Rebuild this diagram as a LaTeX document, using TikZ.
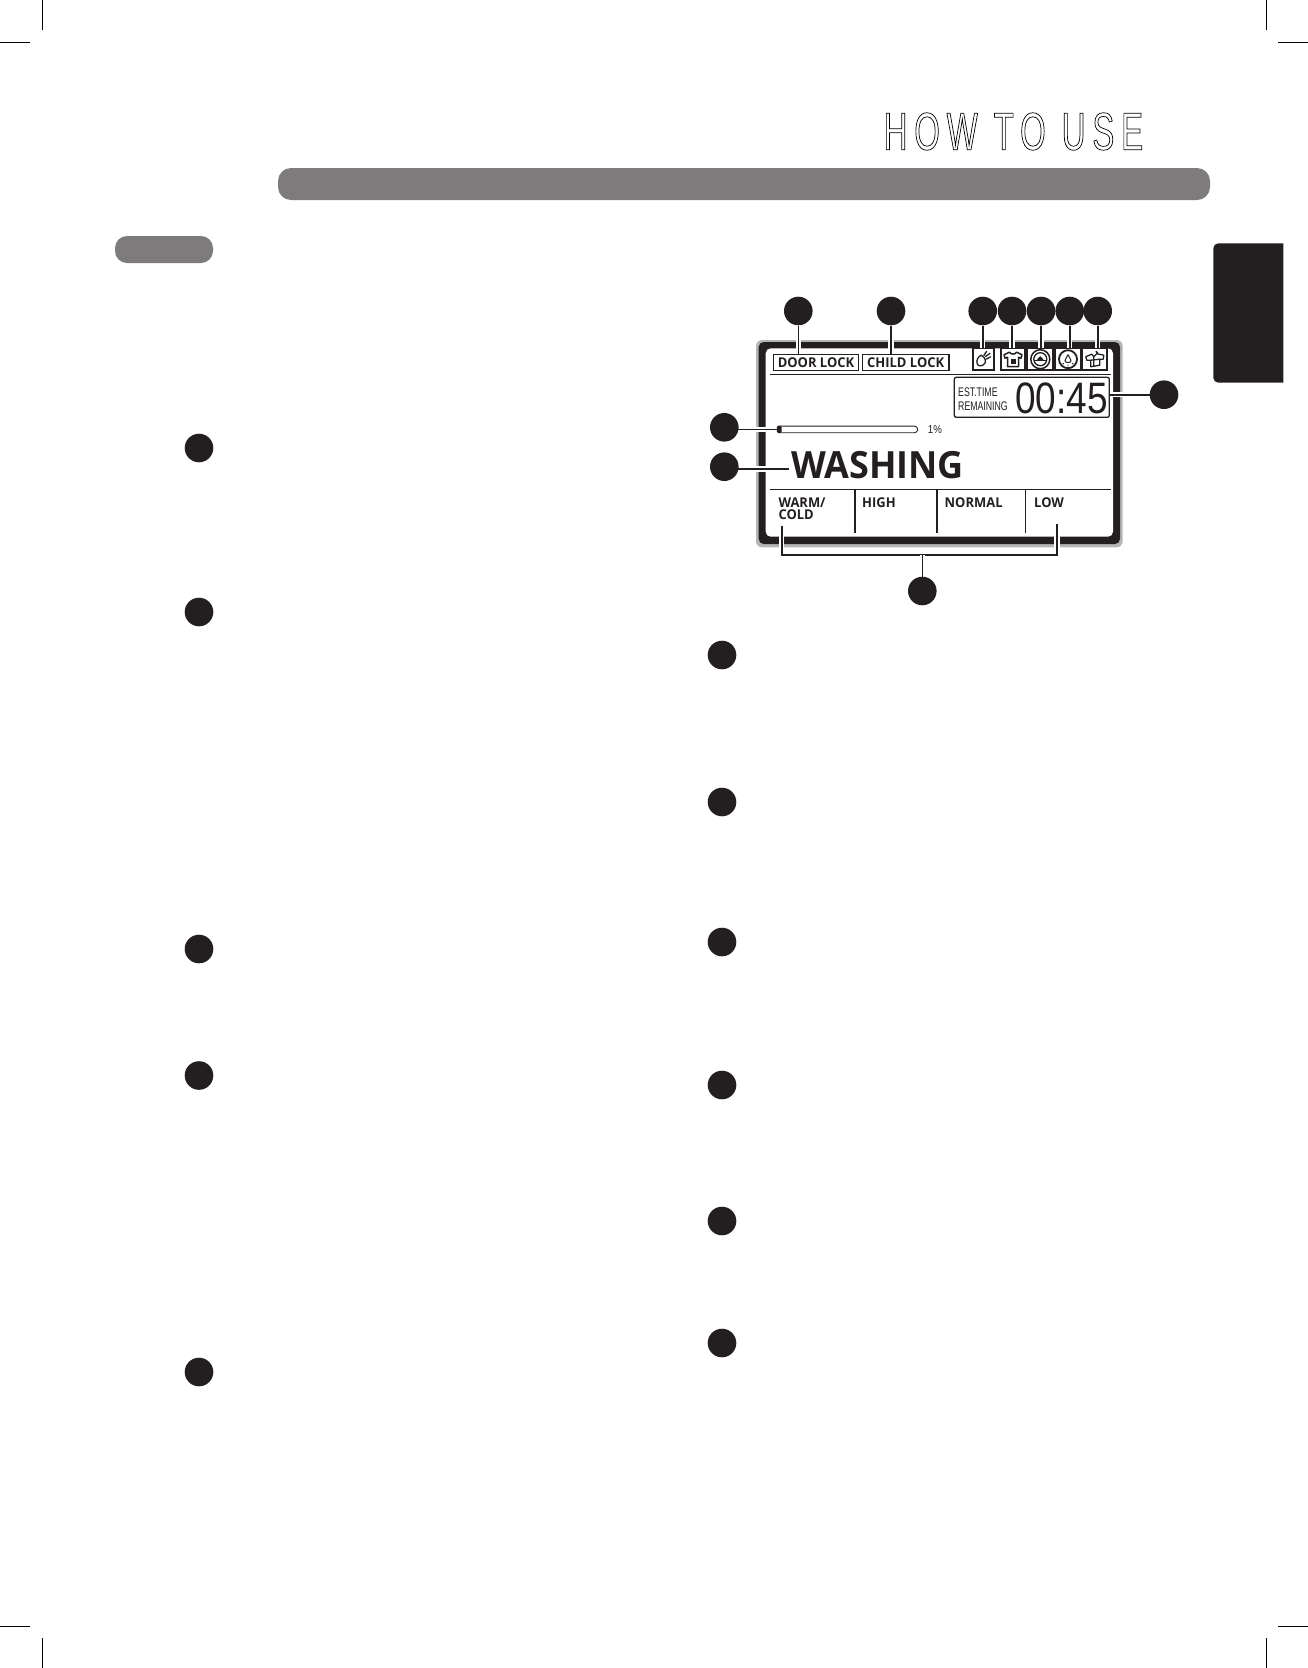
\documentclass[tikz,border=0pt]{standalone}
\usepackage{fontspec}
\usetikzlibrary{backgrounds}
\setmainfont[FakeStretch=0.96]{Open Sans}
\newfontfamily\narrowfont[FakeStretch=0.7]{Liberation Sans}
\newfontfamily\clockfont[FakeStretch=0.84]{Liberation Sans}
\newfontfamily\titlefont[FakeStretch=0.62,LetterSpace=13]{Liberation Sans}
\definecolor{ink}{HTML}{231F20}
\definecolor{band}{HTML}{7D7B7C}
\definecolor{rim}{HTML}{B5B5B5}

\tikzset{
  crop/.style={draw=black, line width=1pt},
  dot/.style={circle, fill=ink, minimum size=28.6pt, inner sep=0pt},
  tag/.style={draw=ink, line width=1.3pt, inner sep=0pt, minimum height=16pt, text=ink, font=\fontsize{13.5}{13.5}\selectfont\bfseries},
  icon/.style={draw=ink, line width=1.8pt, inner sep=0pt, minimum height=21.5pt},
  glyph/.style={draw=ink, line width=1.3pt, line join=round},
  leader/.style={draw=ink, line width=1.6pt, preaction={draw=white, line width=5.5pt}},
  rule/.style={draw=ink, line width=1pt},
  mode/.style={anchor=base west, inner sep=0pt, text=ink, font=\fontsize{13.5}{13.5}\selectfont\bfseries},
}

\begin{document}
\begin{tikzpicture}[x=1pt, y=-1pt]
  \useasboundingbox (0,0) rectangle (1308,1668);

  \draw[crop] (42.5,0) -- (42.5,30);
  \draw[crop] (0,42.5) -- (30,42.5);
  \draw[crop] (1266.7,0) -- (1266.7,30);
  \draw[crop] (1278,42.5) -- (1308,42.5);
  \draw[crop] (0,1626.3) -- (30,1626.3);
  \draw[crop] (42.5,1638) -- (42.5,1668);
  \draw[crop] (1278,1626.3) -- (1308,1626.3);
  \draw[crop] (1266.7,1638) -- (1266.7,1668);

  \node[anchor=west, inner sep=0pt] (title) at (883.5,131.5)
        {\special{pdf:code 1 Tr 0.7 w}\fontsize{53}{53}\titlefont HOW TO USE\special{pdf:code 0 Tr 1 w}};
  \fill[band, rounded corners=13pt] (278,168) rectangle (1210,200);
  \fill[band, rounded corners=12pt] (115,236) rectangle (213,263);
  \fill[ink] (1283.3,243.3) [rounded corners=5pt] -- (1213.3,243.3) -- (1213.3,382.7) [sharp corners] -- (1283.3,382.7) -- cycle;

  \node[dot] (itemA) at (199,448) {};
  \node[dot] (itemB) at (199,612) {};
  \node[dot] (itemC) at (199,949) {};
  \node[dot] (itemD) at (199,1075.5) {};
  \node[dot] (itemE) at (199,1372) {};
  \node[dot] (itemF) at (722,655) {};
  \node[dot] (itemG) at (722,802) {};
  \node[dot] (itemH) at (722,942) {};
  \node[dot] (itemI) at (722,1085) {};
  \node[dot] (itemJ) at (722,1221) {};
  \node[dot] (itemK) at (722,1343) {};

  \begin{scope}[on background layer]
    \fill[rim, rounded corners=6pt] (756,340) rectangle (1122.7,547.3);
    \fill[ink, rounded corners=5pt] (758.7,342) rectangle (1120,544);
    \fill[white, rounded corners=5pt] (765.7,348.3) rectangle (1113,536.7);
  \end{scope}

  \node[dot] (cDoor) at (798.3,311) {};
  \node[dot] (cChild) at (891,311) {};
  \node[dot] (cSoil) at (982.7,311) {};
  \node[dot] (cShirt) at (1012,311) {};
  \node[dot] (cTemp) at (1041,311) {};
  \node[dot] (cRinse) at (1069.7,311) {};
  \node[dot] (cDry) at (1097.7,311) {};
  \node[dot] (cTime) at (1164,394.7) {};
  \node[dot] (cBar) at (724.3,427.3) {};
  \node[dot] (cWash) at (724.3,466.7) {};
  \node[dot] (cOpt) at (922.3,591) {};

  \node[tag, minimum width=85.4pt] (door) at (816,362.7) {DOOR LOCK};
  \node[tag, minimum width=86.7pt] (child) at (905.7,362.7) {CHILD LOCK};
  \node[icon, minimum width=20.7pt] (soil) at (983.7,359.2) {};
  \node[icon, minimum width=24.6pt] (shirt) at (1013,359.2) {};
  \node[icon, minimum width=26pt] (temp) at (1040.3,359.2) {};
  \node[icon, minimum width=26pt] (rinse) at (1068,359.2) {};
  \node[icon, minimum width=25pt] (dry) at (1094.8,359.2) {};

  \begin{scope}[shift={(soil.center)}]
    \draw[glyph, fill=white] (-6.5,4.5) .. controls (-8,1) and (-5,-3) .. (-2.5,-4) .. controls (0,-3) and (2.5,0) .. (1.5,3.5) .. controls (0,7) and (-6,8) .. (-6.5,4.5) -- cycle;
    \draw[glyph] (0,-3.5) -- (3,-8) (1.5,-2.5) -- (6.5,-6) (2.5,0) -- (7,-2.5);
  \end{scope}
  \begin{scope}[shift={(shirt.center)}]
    \draw[glyph, line width=1.5pt] (-3.5,-7) -- (-9,-4.5) -- (-8,-1) -- (-5.5,-2) -- (-5.5,7.5) -- (5.5,7.5) -- (5.5,-2) -- (8,-1) -- (9,-4.5) -- (3.5,-7) .. controls (2,-4.5) and (-2,-4.5) .. (-3.5,-7) -- cycle;
    \fill[ink] (-2.5,-0.5) rectangle (2.5,4.5);
  \end{scope}
  \begin{scope}[shift={(temp.center)}]
    \draw[glyph, line width=1.5pt] (0,0) circle (9.5pt);
    \draw[glyph] (0,0) circle (6.5pt);
    \draw[glyph] (-6.5,1) -- (6.5,1);
    \fill[ink] (-3.5,1) .. controls (-3,-1) and (-1.5,-1) .. (0,-3) .. controls (1.5,-1) and (3,-1) .. (3.5,1) -- cycle;
  \end{scope}
  \begin{scope}[shift={(rinse.center)}]
    \draw[glyph, line width=1.8pt] (0,0) circle (9pt);
    \draw[glyph, line width=1pt] (0,-4.5) .. controls (-1,-2) and (-3,0) .. (-3,1.5) .. controls (-3,4) and (3,4) .. (3,1.5) .. controls (3,0) and (1,-2) .. (0,-4.5) -- cycle;
    \draw[glyph, line width=.8pt] (-5.5,5) -- (-4,4) (5.5,5) -- (4,4) (0,7) -- (0,5.5);
  \end{scope}
  \begin{scope}[shift={(dry.center)}]
    \draw[glyph] (-9,-2.5) -- (-3,-5) -- (-1,-2.5) -- (2,-5.5) -- (9,-4) -- (8.5,0) -- (5,0) -- (5,6) -- (-4,7.5) -- (-4,1) -- (-8,1) -- cycle;
    \draw[glyph] (-1,-2.5) -- (-1,7) (-4,1) -- (5,0) (1,-8) -- (3,-6);
  \end{scope}

  \draw[rule] (770,374.7) -- (1111,374.7);
  \node[draw=ink, line width=1.3pt, rounded corners=2pt, minimum width=155pt, minimum height=40pt, inner sep=0pt] (time) at (1031.8,397.3) {};
  \node[anchor=base west, inner sep=0pt, text=ink, font=\fontsize{12.5}{12.5}\selectfont\narrowfont] (est) at (958,396) {EST.TIME};
  \node[anchor=base west, inner sep=0pt, text=ink, font=\fontsize{12.5}{12.5}\selectfont\narrowfont] (remain) at (958,410) {REMAINING};
  \node[anchor=base west, inner sep=0pt, text=ink, font=\fontsize{44}{44}\selectfont\clockfont] (clock) at (1015,413.3) {00:45};

  \node[draw=ink, line width=.9pt, rounded corners=3.3pt, minimum width=140.4pt, minimum height=6.7pt, inner sep=0pt] (bar) at (847.5,429.4) {};
  \fill[ink, rounded corners=1.5pt] (bar.north west) rectangle ([xshift=4.7pt]bar.south west);
  \node[anchor=base west, inner sep=0pt, text=ink, font=\fontsize{11.5}{11.5}\selectfont\clockfont] (pct) at (927.7,433.5) {1\%};

  \node[anchor=base west, inner sep=0pt, text=ink, font=\fontsize{37.5}{37.5}\selectfont\bfseries] (wash) at (791,478.3) {WASHING};
  \coordinate (washEnd) at (789,469);

  \draw[rule] (770,489.3) -- (1111,489.3);
  \coordinate (tabA) at (855,489.3);
  \coordinate (tabB) at (937,489.3);
  \coordinate (tabC) at (1025.3,489.3);
  \draw[rule, line width=1.4pt] (tabA) -- ++(0,43.4);
  \draw[rule, line width=1.4pt] (tabB) -- ++(0,43.4);
  \draw[rule, line width=.8pt] (tabC) -- ++(0,43.4);
  \node[mode] (warm) at (778.3,507) {WARM/};
  \node[mode] (cold) at (778.3,519) {COLD};
  \node[mode] (high) at (862,507) {HIGH};
  \node[mode] (normal) at (944.5,507) {NORMAL};
  \node[mode] (low) at (1034,507) {LOW};

  \coordinate (optL) at (781.7,526);
  \coordinate (optR) at (1057,524);
  \coordinate (optM) at (922.3,555);

  \begin{scope}[on background layer]
    \draw[leader] (cDoor) -- (cDoor |- door.north);
    \draw[leader] (cChild) -- (cChild |- child.north);
    \draw[leader] (cSoil) -- (cSoil |- soil.north);
    \draw[leader] (cShirt) -- (cShirt |- shirt.north);
    \draw[leader] (cTemp) -- (cTemp |- temp.north);
    \draw[leader] (cRinse) -- (cRinse |- rinse.north);
    \draw[leader] (cDry) -- (cDry |- dry.north);
    \draw[leader] (cTime) -- (cTime -| time.east);
    \draw[leader] (cBar |- bar.west) -- (bar.west);
    \draw[leader] (washEnd -| cWash) -- (washEnd);
    \draw[leader, line join=miter] (optL) |- (optM) -| (optR);
    \draw[leader] (cOpt) -- (optM);
  \end{scope}
\end{tikzpicture}
\end{document}
